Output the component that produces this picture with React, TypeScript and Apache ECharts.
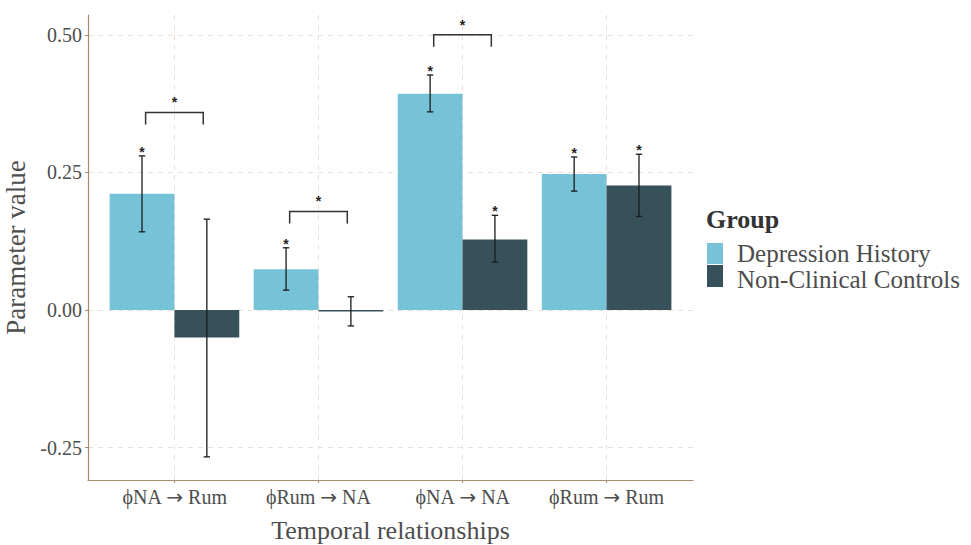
import React, { useEffect, useRef } from "react";
import * as echarts from "echarts";

const categories = ["ϕNA → Rum", "ϕRum → NA", "ϕNA → NA", "ϕRum → Rum"];
const groups = ["Depression History", "Non-Clinical Controls"];
const dhValues = [0.211, 0.074, 0.393, 0.247];
const nccValues = [-0.05, -0.003, 0.128, 0.226];
const dhLower = [0.142, 0.036, 0.36, 0.216];
const dhUpper = [0.28, 0.113, 0.427, 0.278];
const nccLower = [-0.267, -0.029, 0.087, 0.17];
const nccUpper = [0.165, 0.024, 0.172, 0.283];
const dhSig = [1, 1, 1, 1];
const nccSig = [0, 0, 1, 1];
const bracketLevels = [0.359, 0.179, 0.5];
const yTicks = [-0.25, 0, 0.25, 0.5];
const xTicks = [1, 2, 3, 4];

const DH_COLOR = "#76c3d8";
const NCC_COLOR = "#37515a";
const AXIS_COLOR = "#a88b6e";
const GRID_COLOR = "#eadfd6";
const TEXT_COLOR = "#4d4d4d";
const FONT = "Liberation Serif";
const HALF = 0.225;

function barSeries(name: string, values: number[], side: number, color: string) {
  return {
    type: "custom",
    name,
    data: values.map((v, i) => [i + 1, v]),
    renderItem: (_p: any, api: any) => {
      const x = api.value(0);
      const v = api.value(1);
      const c = x + side * HALF;
      const a = api.coord([c - HALF, v]);
      const b = api.coord([c + HALF, 0]);
      return {
        type: "rect",
        shape: {
          x: a[0],
          y: Math.min(a[1], b[1]),
          width: b[0] - a[0],
          height: Math.max(1.5, Math.abs(b[1] - a[1])),
        },
        style: { fill: color },
      };
    },
    z: 2,
  };
}

function errSeries(name: string, lower: number[], upper: number[], sig: number[], side: number) {
  return {
    type: "custom",
    name: name + " CI",
    data: lower.map((lo, i) => [i + 1, lo, upper[i], sig[i]]),
    renderItem: (_p: any, api: any) => {
      const x = api.value(0) + side * HALF;
      const lo = api.coord([x, api.value(1)]);
      const hi = api.coord([x, api.value(2)]);
      const cap = 3.2;
      const st = { stroke: "#1a1a1a", lineWidth: 1.3 };
      const children: any[] = [
        { type: "line", shape: { x1: lo[0], y1: lo[1], x2: hi[0], y2: hi[1] }, style: st },
        { type: "line", shape: { x1: lo[0] - cap, y1: lo[1], x2: lo[0] + cap, y2: lo[1] }, style: st },
        { type: "line", shape: { x1: hi[0] - cap, y1: hi[1], x2: hi[0] + cap, y2: hi[1] }, style: st },
      ];
      if (api.value(3)) {
        children.push({
          type: "text",
          x: hi[0],
          y: hi[1] - 4,
          style: {
            text: "*",
            fill: "#222222",
            font: "bold 14px Liberation Sans",
            align: "center",
            verticalAlign: "middle",
          },
        });
      }
      return { type: "group", children };
    },
    z: 3,
  };
}

const bracketSeries = {
  type: "custom",
  name: "Group difference",
  data: bracketLevels.map((y, i) => [i + 1, y]),
  renderItem: (_p: any, api: any) => {
    const x = api.value(0);
    const y = api.value(1);
    const l = api.coord([x - 0.2, y]);
    const r = api.coord([x + 0.2, y]);
    const legY = l[1] + 12;
    const st = { stroke: "#333333", lineWidth: 1.5, fill: "none" };
    return {
      type: "group",
      children: [
        {
          type: "polyline",
          shape: { points: [[l[0], legY], [l[0], l[1]], [r[0], r[1]], [r[0], legY]] },
          style: st,
        },
        {
          type: "text",
          x: (l[0] + r[0]) / 2,
          y: l[1] - 10,
          style: {
            text: "*",
            fill: "#222222",
            font: "bold 14px Liberation Sans",
            align: "center",
            verticalAlign: "middle",
          },
        },
      ],
    };
  },
  z: 3,
};

export default function App() {
  const ref = useRef<HTMLDivElement>(null);
  useEffect(() => {
    if (!ref.current) return;
    const chart = echarts.init(ref.current, undefined, { renderer: "svg" });
    chart.setOption({
      animation: false,
      backgroundColor: "#ffffff",
      textStyle: { fontFamily: FONT },
      grid: {
        left: 88,
        top: 15,
        width: 605,
        height: 465,
        containLabel: false,
        outerBoundsMode: "none",
      },
      xAxis: {
        type: "value",
        min: 0.4,
        max: 4.6,
        name: "Temporal relationships",
        nameLocation: "middle",
        nameGap: 37,
        nameTextStyle: { fontFamily: FONT, fontSize: 26, color: TEXT_COLOR },
        axisLine: { show: true, onZero: false, lineStyle: { color: AXIS_COLOR, width: 1.2 } },
        axisTick: { show: true, customValues: xTicks, length: 3, lineStyle: { color: AXIS_COLOR } },
        axisLabel: {
          customValues: xTicks,
          margin: 7,
          fontFamily: FONT,
          fontSize: 20,
          color: TEXT_COLOR,
          formatter: (v: number) => {
            const s = categories[Math.round(v) - 1] ?? "";
            const parts = s.split("→");
            if (parts.length < 2) return s;
            return `{t|${parts[0]}}{a|→}{t|${parts[1]}}`;
          },
          rich: {
            t: { fontFamily: FONT, fontSize: 20, color: TEXT_COLOR },
            a: { fontFamily: "DejaVu Sans", fontSize: 20, color: TEXT_COLOR },
          },
        },
        splitLine: { show: true, lineStyle: { color: GRID_COLOR, type: [5, 5], width: 1 } },
      },
      yAxis: {
        type: "value",
        min: -0.309,
        max: 0.536,
        name: "Parameter value",
        nameLocation: "middle",
        nameGap: 45,
        nameRotate: 90,
        nameTextStyle: { fontFamily: FONT, fontSize: 27, color: TEXT_COLOR },
        axisLine: { show: true, onZero: false, lineStyle: { color: AXIS_COLOR, width: 1.2 } },
        axisTick: { show: true, customValues: yTicks, length: 3, lineStyle: { color: AXIS_COLOR } },
        axisLabel: {
          customValues: yTicks,
          margin: 6,
          fontFamily: FONT,
          fontSize: 20,
          color: TEXT_COLOR,
          formatter: (v: number) => v.toFixed(2),
        },
        splitLine: { show: true, lineStyle: { color: GRID_COLOR, type: [5, 5], width: 1 } },
      },
      series: [
        barSeries(groups[0], dhValues, -1, DH_COLOR),
        barSeries(groups[1], nccValues, 1, NCC_COLOR),
        errSeries(groups[0], dhLower, dhUpper, dhSig, -1),
        errSeries(groups[1], nccLower, nccUpper, nccSig, 1),
        bracketSeries,
      ],
      graphic: [
        {
          type: "text",
          x: 706,
          y: 219,
          style: { text: "Group", font: `bold 26px ${FONT}`, fill: "#333333", verticalAlign: "middle" },
        },
        { type: "rect", shape: { x: 707, y: 243, width: 16, height: 21 }, style: { fill: DH_COLOR } },
        { type: "rect", shape: { x: 707, y: 265, width: 16, height: 22 }, style: { fill: NCC_COLOR } },
        {
          type: "text",
          x: 737,
          y: 253,
          style: { text: groups[0], font: `25px ${FONT}`, fill: TEXT_COLOR, verticalAlign: "middle" },
        },
        {
          type: "text",
          x: 737,
          y: 279,
          style: { text: groups[1], font: `25px ${FONT}`, fill: TEXT_COLOR, verticalAlign: "middle" },
        },
      ],
    });
    return () => chart.dispose();
  }, []);
  return (
    <div
      ref={ref}
      style={{ position: "fixed", left: 0, top: 0, width: 971, height: 545, background: "#fff" }}
    />
  );
}
